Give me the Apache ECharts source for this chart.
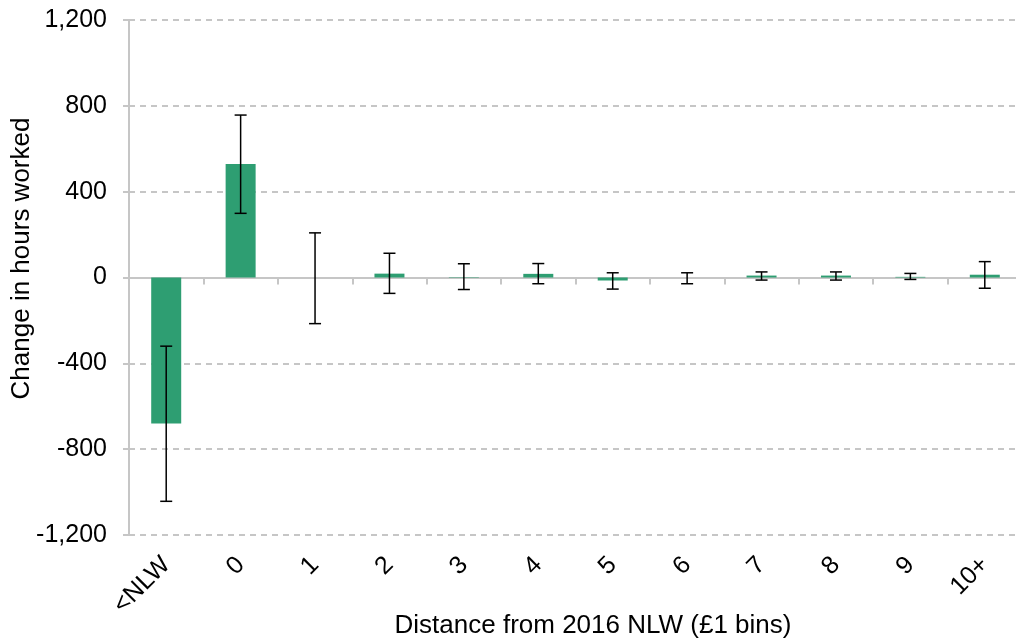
<!DOCTYPE html>
<html><head><meta charset="utf-8">
<script src="https://cdn.jsdelivr.net/npm/echarts@6/dist/echarts.min.js"></script>
<style>html,body{margin:0;padding:0;background:#fff}#c{width:1016px;height:641px}</style>
</head><body><div id="c"></div>
<script>
const categories = ['<NLW','0','1','2','3','4','5','6','7','8','9','10+'];
const values = [-680, 529, 0, 18, 2, 17, -14, 0, 9, 9, 3, 13];
const errLow = [-1043, 299, -215, -74, -56, -29, -54, -29, -12, -12, -9, -50];
const errHigh = [-320, 757, 208, 113, 64, 65, 22, 22, 26, 26, 19, 74];
const yTicks = [-1200, -800, -400, 0, 400, 800, 1200];

const font = 'Liberation Sans, Arial, sans-serif';
const chart = echarts.init(document.getElementById('c'), null, {renderer:'canvas'});
const errData = categories.map((c,i)=>[i, errLow[i], errHigh[i]]);
chart.setOption({
  animation:false,
  grid:{left:129, right:-6, top:20, bottom:106, containLabel:false, outerBoundsMode:'none'},
  xAxis:[{
    type:'category', data:categories, position:'bottom',
    axisLine:{show:false, onZero:false}, axisTick:{show:false},
    axisLabel:{rotate:45, fontSize:25, color:'#000', fontFamily:font, margin:26, interval:0},
    name:'Distance from 2016 NLW (£1 bins)', nameLocation:'middle', nameGap:78, nameMoveOverlap:false,
    nameTextStyle:{fontSize:26, color:'#000', fontFamily:font, padding:[0,0,0,35]}
  },{
    type:'category', data:categories, position:'top',
    axisLine:{show:true, onZero:true, lineStyle:{color:'#c6c6c6', width:2}},
    axisTick:{show:true, inside:true, length:7, lineStyle:{color:'#c6c6c6', width:2}},
    axisLabel:{show:false}
  }],
  yAxis:{
    type:'value', min:-1200, max:1200, interval:400,
    axisLine:{show:true, lineStyle:{color:'#c6c6c6', width:2}},
    axisTick:{show:true, length:6, lineStyle:{color:'#c6c6c6', width:2}},
    splitLine:{show:true, lineStyle:{color:'#c6c6c6', type:[6,5], width:2}},
    axisLabel:{fontSize:25, color:'#000', fontFamily:font, margin:22,
      formatter:v=>yTicks.includes(v)? v.toLocaleString('en-US'):''},
    name:'Change in hours worked', nameLocation:'middle', nameGap:94, nameMoveOverlap:false,
    nameTextStyle:{fontSize:26, color:'#000', fontFamily:font, padding:[0,0,0,38]}
  },
  series:[{
    type:'bar', xAxisIndex:0, data:values, barWidth:30,
    itemStyle:{color:'#2e9e72'}
  },{
    type:'custom', xAxisIndex:0, data:errData, z:10,
    renderItem:(params, api)=>{
      const x = api.value(0);
      const lo = api.coord([x, api.value(1)]);
      const hi = api.coord([x, api.value(2)]);
      const hw = 6;
      const st = {stroke:'#000', lineWidth:1.5};
      return {type:'group', children:[
        {type:'line', shape:{x1:hi[0], y1:hi[1], x2:lo[0], y2:lo[1]}, style:st},
        {type:'line', shape:{x1:hi[0]-hw, y1:hi[1], x2:hi[0]+hw, y2:hi[1]}, style:st},
        {type:'line', shape:{x1:lo[0]-hw, y1:lo[1], x2:lo[0]+hw, y2:lo[1]}, style:st}
      ]};
    }
  }]
});
</script></body></html>
